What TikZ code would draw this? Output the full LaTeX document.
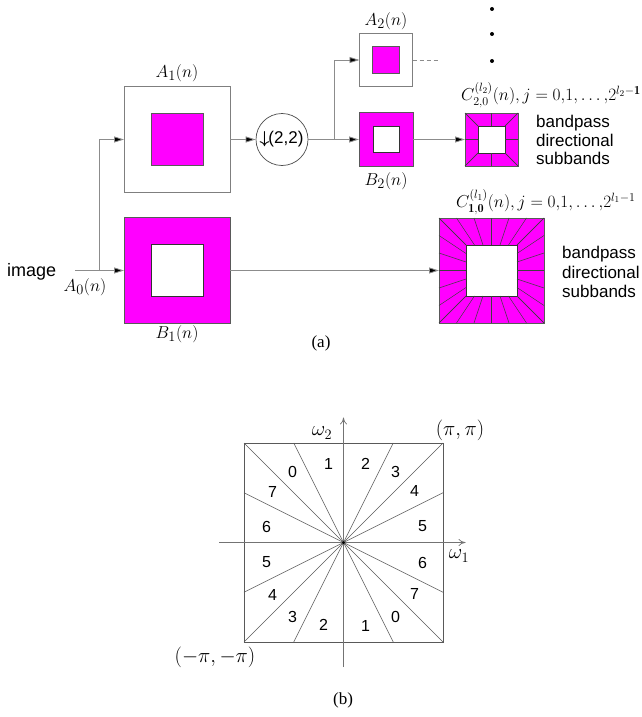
\documentclass[tikz,border=0pt]{standalone}
\usepackage{amsmath}
\usepackage{fontspec}
\setsansfont{Liberation Sans}
\newfontfamily\serifa{Liberation Serif}
\usetikzlibrary{arrows.meta,shapes.geometric}
\definecolor{mag}{HTML}{FF00FF}
\definecolor{boxgray}{HTML}{7F7F7F}
\definecolor{linegray}{HTML}{8C8C8C}
\tikzset{
  outerbox/.style={draw=boxgray, line width=0.9pt, fill=white, inner sep=0pt, outer sep=0pt},
  magbox/.style={draw=boxgray!70!black, line width=0.7pt, fill=mag, inner sep=0pt, outer sep=0pt},
  holebox/.style={draw=black!80, line width=0.7pt, fill=white, inner sep=0pt, outer sep=0pt},
  conn/.style={draw=linegray, line width=0.8pt, -{Triangle[length=10pt,width=6pt,fill=black]}},
  plainline/.style={draw=linegray, line width=0.8pt},
  seg/.style={draw=black!75, line width=0.5pt},
  mlabel/.style={inner sep=0pt, font=\fontsize{19}{22}\selectfont},
  clabel/.style={inner sep=0pt, font=\fontsize{17.5}{20}\selectfont},
  slabel/.style={inner sep=0pt, font=\fontsize{17}{18.5}\selectfont\sffamily},
  numlabel/.style={inner sep=0pt, font=\fontsize{16}{18}\selectfont\sffamily},
  captext/.style={inner sep=0pt, font=\fontsize{17}{20}\selectfont\serifa},
  blabel/.style={inner sep=0pt, font=\fontsize{21}{24}\selectfont},
  wedge/.style={draw=black!65, line width=0.6pt},
  axis/.style={draw=black!55, line width=0.7pt, -{To[length=7pt,width=7pt]}}
}
\begin{document}
\begin{tikzpicture}[x=1pt,y=-1pt]
\useasboundingbox (0,0) rectangle (642,717);
\clip (0,0) rectangle (642,717);
% ---------- part (a) ----------
% A1
\node[outerbox, minimum size=106pt] (A1) at (177,139.5) {};
\node[magbox, minimum size=52pt] (A1i) at (177,139.5) {};
\node[mlabel] (A1l) at (177,73) {$A_1(n)$};
% B1
\node[magbox, minimum size=106pt] (B1) at (177,270.5) {};
\node[holebox, minimum size=52pt] (B1i) at (177,270.5) {};
\node[mlabel] (B1l) at (177,334) {$B_1(n)$};
% downsampler
\node[draw=black!70, line width=0.7pt, circle, minimum size=52pt, inner sep=0pt, font=\fontsize{17}{18}\selectfont\sffamily] (D) at (282,139.5) {\hspace*{-1pt}$\boldsymbol{\downarrow}$\hspace{-1pt}(2,2)};
% A2
\node[outerbox, minimum size=53pt] (A2) at (386,60) {};
\node[magbox, minimum size=27pt] (A2i) at (386,60) {};
\node[mlabel] (A2l) at (386,21) {$A_2(n)$};
% B2
\node[magbox, minimum size=54pt] (B2) at (386,139.5) {};
\node[holebox, minimum size=26pt] (B2i) at (386,139.5) {};
\node[mlabel] (B2l) at (386,181) {$B_2(n)$};
% C2
\node[magbox, minimum size=53pt] (C2) at (491.5,139.5) {};
\node[holebox, minimum size=27pt] (C2i) at (491.5,139.5) {};
\begin{scope}[shift={(491.5,139.5)}]
  \foreach \r in {0,90,180,270}{
    \begin{scope}[rotate=\r]
      \foreach \t in {-1,0,1}{
        \draw[seg] (\t*26.5,-26.5) -- (\t*13.5,-13.5);
      }
    \end{scope}
  }
\end{scope}
\node[clabel, anchor=west] (C2l) at (461,95) {$C^{(l_2)}_{2,0}(n), j=0{,}1{,}\dots{,}2^{l_2-\mathbf{1}}$};
\node[slabel, anchor=west, align=left] (C2t) at (536,140) {bandpass\\directional\\subbands};
% C1
\node[magbox, minimum size=105pt] (C1) at (491.5,270.5) {};
\node[holebox, minimum size=51pt] (C1i) at (491.5,270.5) {};
\begin{scope}[shift={(491.5,270.5)}]
  \foreach \r in {0,90,180,270}{
    \begin{scope}[rotate=\r]
      \foreach \k in {0,...,6}{
        \draw[seg] ({(-1+\k/3)*52.5},-52.5) -- ({(-1+\k/3)*25.5},-25.5);
      }
    \end{scope}
  }
\end{scope}
\node[clabel, anchor=west] (C1l) at (456,202) {$C^{(l_1)}_{\mathbf{1,0}}(n), j=0{,}1{,}\dots{,}2^{l_1-1}$};
\node[slabel, anchor=west, align=left, font=\fontsize{17}{19.5}\selectfont\sffamily] (C1t) at (562,272) {bandpass\\directional\\subbands};
% input
\node[slabel, anchor=west, font=\fontsize{18}{20}\selectfont\sffamily] (img) at (7,272) {image};
\node[mlabel] (A0l) at (85,287) {$A_0(n)$};
\coordinate (in) at (75,270.5);
\coordinate (split) at (99,270.5);
\coordinate (s2) at (334,139.5);
\coordinate (dashend) at (440,60);
% connectors
\draw[conn] (in) -- (B1.west);
\draw[conn] (split) |- (A1.west);
\draw[conn] (A1.east) -- (D.west);
\draw[conn] (D.east) -- (B2.west);
\draw[conn] (s2) |- (A2.west);
\draw[plainline, dashed, dash pattern=on 4pt off 3pt] (A2.east) -- (dashend);
\draw[conn] (B2.east) -- (C2.west);
\draw[conn] (B1.east) -- (C1.west);
% dots
\fill[black] (492,9) circle (2pt) (492,34) circle (2pt) (492,61) circle (2pt);
\node[captext] (capa) at (321,343) {(a)};
% ---------- part (b) ----------
\begin{scope}[shift={(343.5,542.5)}]
  \def\h{99.5}
  \node[draw=black!65, line width=0.6pt, minimum size=199pt, inner sep=0pt] (sq) at (0,0) {};
  \coordinate (o) at (0,0);
  \draw[wedge] (-\h,-\h) -- (\h,\h);
  \draw[wedge] (\h,-\h) -- (-\h,\h);
  \draw[wedge] (-\h/2,-\h) -- (\h/2,\h);
  \draw[wedge] (\h/2,-\h) -- (-\h/2,\h);
  \draw[wedge] (-\h,-\h/2) -- (\h,\h/2);
  \draw[wedge] (-\h,\h/2) -- (\h,-\h/2);
  \coordinate (xl) at (-124.5,0);
  \coordinate (xr) at (122,0);
  \coordinate (yb) at (0,124.5);
  \coordinate (yt) at (0,-125);
  \draw[axis] (xl) -- (xr);
  \draw[axis] (yb) -- (yt);
  \fill[black] (o) circle (1.5pt);
  % numbers
  \node[numlabel] (t0) at (-51,-71) {0};
  \node[numlabel] (t1) at (-15,-79) {1};
  \node[numlabel] (t2) at (22,-79) {2};
  \node[numlabel] (t3) at (52,-71) {3};
  \node[numlabel] (r4) at (71,-52) {4};
  \node[numlabel] (r5) at (79,-16) {5};
  \node[numlabel] (r6) at (79,20) {6};
  \node[numlabel] (r7) at (71,51) {7};
  \node[numlabel] (b0) at (52,74) {0};
  \node[numlabel] (b1) at (22,83) {1};
  \node[numlabel] (b2) at (-20,82) {2};
  \node[numlabel] (b3) at (-51,74) {3};
  \node[numlabel] (l4) at (-71,52) {4};
  \node[numlabel] (l5) at (-77,20) {5};
  \node[numlabel] (l6) at (-77,-16) {6};
  \node[numlabel] (l7) at (-71,-51) {7};
\end{scope}
\node[blabel] (w2) at (322,433) {$\omega_2$};
\node[blabel] (w1) at (459,556) {$\omega_1$};
\node[blabel] (pp) at (460,430) {$(\pi,\pi)$};
\node[blabel] (mpp) at (215,657) {$(-\pi,-\pi)$};
\node[captext] (capb) at (343,700) {(b)};
\end{tikzpicture}
\end{document}
